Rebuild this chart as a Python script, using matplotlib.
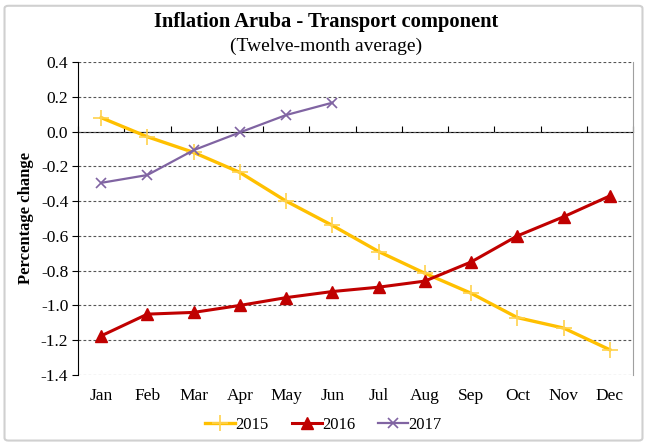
import matplotlib
matplotlib.use("Agg")
import matplotlib.pyplot as plt
from matplotlib.patches import FancyBboxPatch
from matplotlib.ticker import MultipleLocator, FixedLocator, NullFormatter

months = ["Jan", "Feb", "Mar", "Apr", "May", "Jun",
          "Jul", "Aug", "Sep", "Oct", "Nov", "Dec"]
y2015 = [0.08, -0.03, -0.12, -0.235, -0.40, -0.54,
         -0.69, -0.815, -0.93, -1.07, -1.13, -1.255]
y2016 = [-1.175, -1.05, -1.04, -1.0, -0.955, -0.92,
         -0.895, -0.86, -0.75, -0.60, -0.49, -0.37]
y2017 = [-0.295, -0.25, -0.107, -0.005, 0.095, 0.166]

plt.rcParams["font.family"] = ["Liberation Serif", "DejaVu Serif"]

fig = plt.figure(figsize=(6.47, 4.45), dpi=100)
ax = fig.add_axes([78 / 647, 1 - 375 / 445, 555 / 647, 313 / 445])

# outer chart border
fig.patches.append(FancyBboxPatch((0.007, 0.010), 0.986, 0.977,
                                  boxstyle="round,pad=0,rounding_size=0.006",
                                  transform=fig.transFigure, facecolor="none",
                                  edgecolor="#d0d0d0", linewidth=1.5))

x = list(range(len(months)))
ax.plot(x, y2015, color="#FFC000", lw=2.4, marker="+", ms=11, mew=1.2,
        mec="#FFD24D", label="2015", zorder=3)
ax.plot(x, y2016, color="#C00000", lw=2.2, marker="^", ms=9,
        label="2016", zorder=4)
ax.plot(x[:len(y2017)], y2017, color="#8064A2", lw=1.6, marker="x", ms=7,
        mew=1.2, label="2017", zorder=5)

ax.set_xlim(-0.5, 11.5)
ax.set_ylim(-1.4, 0.4)
ax.yaxis.set_major_locator(MultipleLocator(0.2))
ax.yaxis.set_major_formatter(plt.FuncFormatter(lambda v, p: f"{v:.1f}"))
ax.grid(axis="y", linestyle=(0, (2.5, 2)), color="#555555", linewidth=0.8)
ax.set_axisbelow(True)

ax.set_xticks(x)
ax.set_xticklabels(months)
ax.tick_params(axis="x", length=0, pad=9, labelsize=12.5)
ax.tick_params(axis="y", length=4, width=0.8, direction="out", labelsize=12.5, pad=3)

ax.spines["top"].set_visible(False)
ax.spines["bottom"].set_visible(False)
ax.spines["right"].set_color("#a0a0a0")
ax.spines["left"].set_color("black")

# category axis crossing at zero
sec = ax.secondary_xaxis(1.4 / 1.8)
sec.xaxis.set_major_locator(FixedLocator([i + 0.5 for i in range(-1, 12)]))
sec.xaxis.set_major_formatter(NullFormatter())
sec.tick_params(length=4, width=0.8, direction="out")
sec.spines["bottom"].set_linewidth(1.0)

ax.set_ylabel("Percentage change", fontsize=12, fontweight="bold", labelpad=5)

fig.text(0.504, 0.950, "Inflation Aruba - Transport component",
         ha="center", va="center", fontsize=14.8, fontweight="bold")
fig.text(0.504, 0.896, "(Twelve-month average)",
         ha="center", va="center", fontsize=14)

fig.legend(loc="center", bbox_to_anchor=(0.50, 0.046), ncol=3, frameon=False,
           fontsize=12, handlelength=1.8, handletextpad=0.0, columnspacing=1.4)

fig.savefig("out.png", dpi=100)
